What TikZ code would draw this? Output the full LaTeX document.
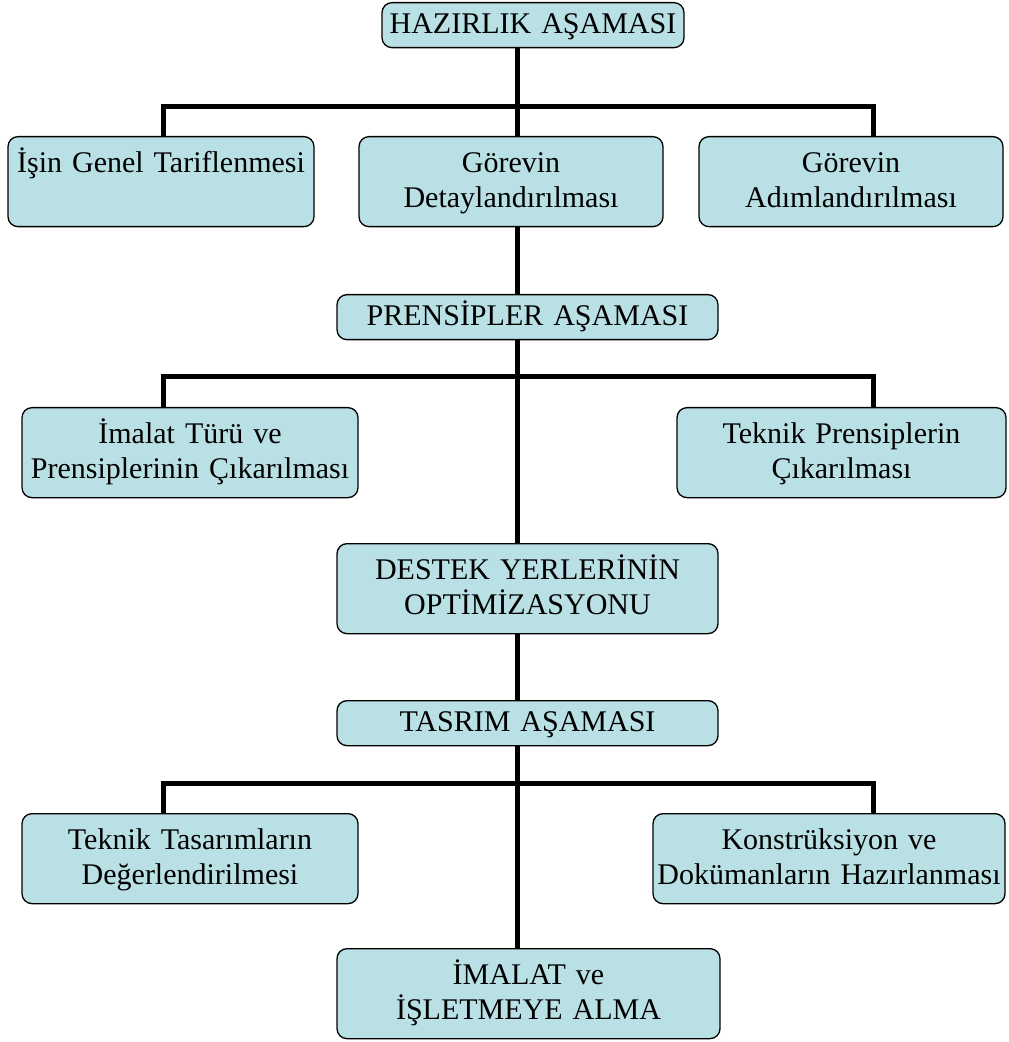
\documentclass[tikz,border=0pt]{standalone}
\usepackage{fontspec}
\setmainfont{Liberation Serif}
\usepackage{tikz}
\usetikzlibrary{positioning}
\definecolor{boxcyan}{RGB}{185,224,228}
\tikzstyle{stagebox} = [draw, line width=0.65pt, rounded corners=5pt, fill=boxcyan, align=center, inner xsep=0pt, inner ysep=0pt, text height=15.5pt, text depth=7pt, anchor=north, font=\fontsize{15pt}{17.5pt}\selectfont]
\tikzstyle{taskbox} = [stagebox, text height=18pt, text depth=27pt]
\tikzstyle{trunk} = [line width=2.5pt]

\begin{document}
\begin{tikzpicture}[x=0.5pt, y=-0.5pt]
    \useasboundingbox (0,0) rectangle (1008,1042);

    % Hazirlik stage
    \node[stagebox, text width=151pt] (hazirlik) at (533,2) {HAZIRLIK AŞAMASI};
    \node[taskbox, text width=153pt] (isin) at (161,136) {İşin Genel Tariflenmesi};
    \node[taskbox, text width=152pt] (detay) at (511,136) {Görevin\\Detaylandırılması};
    \node[taskbox, text width=152pt] (adim) at (851,136) {Görevin\\Adımlandırılması};

    % Prensipler stage
    \node[stagebox, text width=190.5pt] (prensipler) at (527.5,294) {PRENSİPLER AŞAMASI};
    \node[taskbox, text width=168pt] (imalatturu) at (190,407) {İmalat Türü ve\\Prensiplerinin Çıkarılması};
    \node[taskbox, text width=164.5pt] (teknikpr) at (841.5,407) {Teknik Prensiplerin\\Çıkarılması};
    \node[taskbox, text width=190.5pt] (destek) at (527.5,543) {DESTEK YERLERİNİN\\OPTİMİZASYONU};

    % Tasrim stage
    \node[stagebox, text width=190.5pt] (tasrim) at (527.5,700) {TASRIM AŞAMASI};
    \node[taskbox, text width=168pt] (tasarim) at (190,813) {Teknik Tasarımların\\Değerlendirilmesi};
    \node[taskbox, text width=176pt] (konstr) at (829,813) {Konstrüksiyon ve\\Dokümanların Hazırlanması};
    \node[taskbox, text width=191.5pt] (imalat) at (528.5,948) {İMALAT ve\\İŞLETMEYE ALMA};

    % Bar corners
    \coordinate (bar1) at (517,107);
    \coordinate (lft1) at (163,107);
    \coordinate (rgt1) at (873,107);
    \coordinate (bar2) at (517,377);
    \coordinate (lft2) at (163,377);
    \coordinate (rgt2) at (873,377);
    \coordinate (bar3) at (517,783);
    \coordinate (lft3) at (163,783);
    \coordinate (rgt3) at (873,783);

    % Spine
    \draw[trunk] (hazirlik.south -| bar1) -- (detay.north -| bar1);
    \draw[trunk] (detay.south -| bar1) -- (prensipler.north -| bar1);
    \draw[trunk] (prensipler.south -| bar2) -- (destek.north -| bar2);
    \draw[trunk] (destek.south -| bar2) -- (tasrim.north -| bar2);
    \draw[trunk] (tasrim.south -| bar3) -- (imalat.north -| bar3);

    % Branches
    \draw[trunk] (isin.north -| lft1) -- (lft1) -- (rgt1) -- (adim.north -| rgt1);
    \draw[trunk] (imalatturu.north -| lft2) -- (lft2) -- (rgt2) -- (teknikpr.north -| rgt2);
    \draw[trunk] (tasarim.north -| lft3) -- (lft3) -- (rgt3) -- (konstr.north -| rgt3);
\end{tikzpicture}
\end{document}
